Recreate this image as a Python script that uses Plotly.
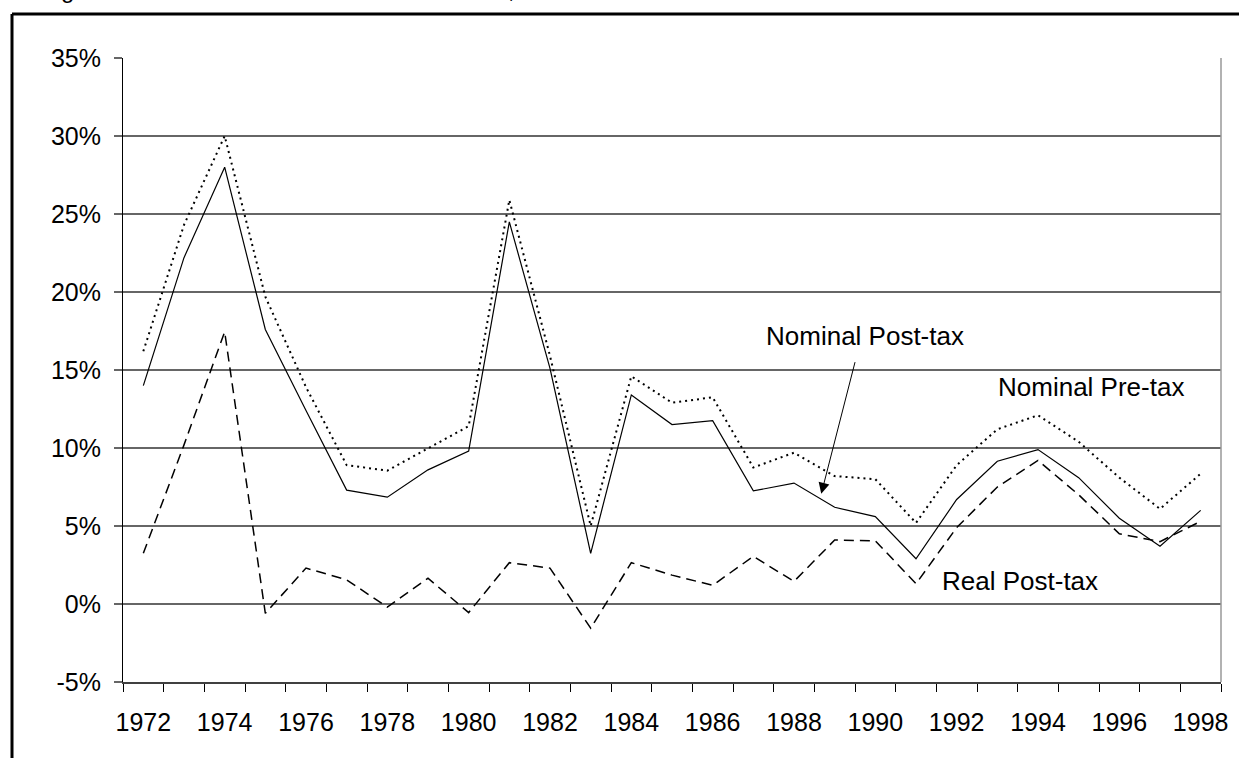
import plotly.graph_objects as go

# ---- data (percent) ----
years = list(range(1972, 1999))
nominal_pre_tax = [16.2, 24.3, 30.0, 19.7, 13.9, 8.9, 8.55, 10.0, 11.4, 25.9, 15.9, 5.0, 14.6, 12.9,
                   13.25, 8.75, 9.7, 8.2, 8.0, 5.2, 8.9, 11.2, 12.1, 10.4, 8.1, 6.1, 8.35]
nominal_post_tax = [14.0, 22.2, 28.0, 17.6, 12.4, 7.3, 6.85, 8.6, 9.8, 24.5, 15.1, 3.25, 13.4, 11.5,
                    11.75, 7.25, 7.75, 6.2, 5.6, 2.9, 6.7, 9.15, 9.9, 8.1, 5.5, 3.7, 6.0]
real_post_tax = [3.25, 10.2, 17.45, -0.6, 2.3, 1.55, -0.2, 1.65, -0.55, 2.65, 2.3, -1.55, 2.65, 1.85,
                 1.2, 3.05, 1.45, 4.1, 4.05, 1.3, 4.9, 7.5, 9.2, 7.0, 4.5, 4.0, 5.3]
label_years = years[::2]
label_text = [str(y) for y in label_years]
boundaries = [y - 0.5 for y in years] + [years[-1] + 0.5]
y_ticks = list(range(-5, 40, 5))
y_tick_text = [f"{v}%" for v in y_ticks]

FONT = "Liberation Sans, Arial, sans-serif"

fig = go.Figure()
fig.add_trace(go.Scatter(x=years, y=nominal_pre_tax, mode="lines", name="Nominal Pre-tax",
                         line=dict(color="black", width=2, dash="2px,4px")))
fig.add_trace(go.Scatter(x=years, y=nominal_post_tax, mode="lines", name="Nominal Post-tax",
                         line=dict(color="black", width=1.2)))
fig.add_trace(go.Scatter(x=years, y=real_post_tax, mode="lines", name="Real Post-tax",
                         line=dict(color="black", width=1.5, dash="10px,6px")))

W, H = 1239, 758
ML, MR, MT, MB = 123, 18, 58, 76
PW, PH = W - ML - MR, H - MT - MB

def px_x(p):
    return (p - ML) / PW

def px_y(p):
    return 1 - (p - MT) / PH

fig.update_layout(
    width=W, height=H, autosize=False,
    margin=dict(l=ML, r=MR, t=MT, b=MB, pad=0),
    paper_bgcolor="white", plot_bgcolor="white",
    showlegend=False,
    font=dict(family=FONT, size=25, color="black"),
    xaxis=dict(
        range=[years[0] - 0.5, years[-1] + 0.5],
        tickvals=label_years, ticktext=label_text,
        ticks="outside", ticklen=8, tickcolor="rgba(0,0,0,0)",
        showgrid=False, zeroline=False,
        showline=True, linecolor="#404040", linewidth=1.5,
        tickfont=dict(family=FONT, size=25, color="black"),
        ticklabelstandoff=9,
        minor=dict(tickvals=boundaries, ticks="outside", ticklen=8, tickcolor="black",
                   tickwidth=1, showgrid=False),
    ),
    yaxis=dict(
        range=[-5, 35], tickvals=y_ticks, ticktext=y_tick_text,
        ticks="outside", ticklen=8, tickcolor="#666666", tickwidth=1.5,
        showgrid=True, gridcolor="#666666", gridwidth=1.5,
        zeroline=False, showline=True, linecolor="black", linewidth=1,
        tickfont=dict(family=FONT, size=25, color="black"),
        ticklabelstandoff=8,
    ),
)

# outer frame (left and top edges visible)
fig.add_shape(type="line", xref="paper", yref="paper",
              x0=px_x(12), x1=px_x(12), y0=px_y(H + 20), y1=px_y(14),
              line=dict(color="black", width=3))
fig.add_shape(type="line", xref="paper", yref="paper",
              x0=px_x(12), x1=px_x(W + 20), y0=px_y(14), y1=px_y(14),
              line=dict(color="black", width=3))
# plot area right border
fig.add_shape(type="line", xref="paper", yref="paper",
              x0=1, x1=1, y0=0, y1=1, line=dict(color="#999999", width=1.5))

# cut-off title at the top
fig.add_annotation(text="Figure 3. Nominal and Real Rates of Return, 1972-1998",
                   xref="paper", yref="paper", x=px_x(39), y=px_y(-10),
                   xanchor="left", yanchor="middle", showarrow=False,
                   font=dict(family=FONT, size=24, color="black"))

# series labels
fig.add_annotation(text="Nominal Post-tax", xref="x", yref="y", x=1989.75, y=17.2,
                   showarrow=False, xanchor="center", yanchor="middle",
                   font=dict(family=FONT, size=26, color="black"))
fig.add_annotation(text="Nominal Pre-tax", xref="x", yref="y", x=1995.3, y=13.9,
                   showarrow=False, xanchor="center", yanchor="middle",
                   font=dict(family=FONT, size=26, color="black"))
fig.add_annotation(text="Real Post-tax", xref="x", yref="y", x=1993.55, y=1.5,
                   showarrow=False, xanchor="center", yanchor="middle",
                   font=dict(family=FONT, size=26, color="black"))
# arrow pointing to Nominal Post-tax line
fig.add_annotation(text="", xref="x", yref="y", x=1988.67, y=7.06,
                   axref="x", ayref="y", ax=1989.51, ay=15.6,
                   showarrow=True, arrowhead=2, arrowsize=2.2, arrowwidth=1,
                   arrowcolor="black")

fig.write_html("out.html", config={"displayModeBar": False},
               post_script="document.body.style.margin='0';document.body.style.overflow='hidden';")
